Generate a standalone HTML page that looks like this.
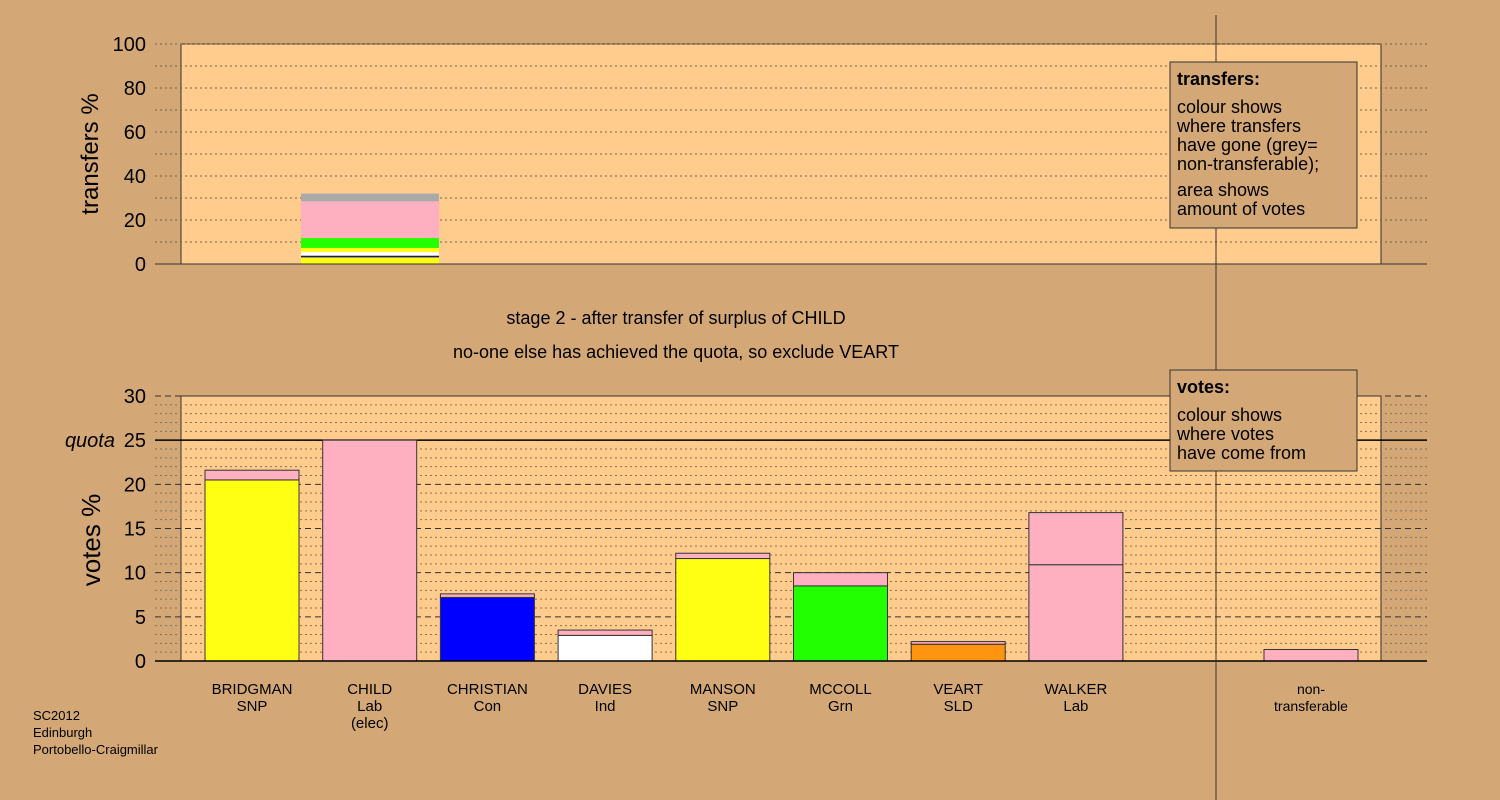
<!DOCTYPE html>
<html><head><meta charset="utf-8"><style>
html,body{margin:0;padding:0;background:#d3a876;}
svg{display:block;font-family:"Liberation Sans",Arial,sans-serif;}
</style></head><body>
<svg id="c" width="1500" height="800" viewBox="0 0 1500 800" xmlns="http://www.w3.org/2000/svg">
<rect width="1500" height="800" fill="#d3a876"/>
<g id="topPanel"></g>
<g id="botPanel"></g>
</svg>
<script>
const candidates=["BRIDGMAN\nSNP","CHILD\nLab\n(elec)","CHRISTIAN\nCon","DAVIES\nInd","MANSON\nSNP","MCCOLL\nGrn","VEART\nSLD","WALKER\nLab"];
const baseVotes=[20.5,25,7.2,2.9,11.6,8.5,1.9,10.9,0];
const baseColors=["#ffff14","#ffb0c0","#0000ff","#ffffff","#ffff14","#22ff00","#ff9410","#ffb0c0","#ffb0c0"];
const addVotes=[1.1,0,0.4,0.6,0.6,1.5,0.3,5.9,1.3];
const addColor="#ffb0c0";
const transferVals=[3,0.8,1.7,1.8,4.5,0,16.7,3.5];
const transferColors=["#ffff14","#1a1a66","#ffffff","#ffff14","#22ff00","#ff9410","#ffb0c0","#a9a9a9"];
const topTicks=[0,20,40,60,80,100];
const botTicks=[0,5,10,15,20,25,30];
const quota=25;

const NS="http://www.w3.org/2000/svg";
function el(p,t,a,txt){const e=document.createElementNS(NS,t);for(const k in a)e.setAttribute(k,a[k]);if(txt!==undefined)e.textContent=txt;p.appendChild(e);return e;}
const topG=document.getElementById('topPanel'),botG=document.getElementById('botPanel');
const X0=181,X1=1381;
const yT=v=>264-v*2.2;
const yB=v=>661-v*(265/30);
const barX=i=>i<8?205+i*117.7:1264;
const BW=94;

let r=el(topG,'rect',{x:X0,y:44,width:X1-X0,height:220,fill:"#ffcc8e",stroke:"#333","stroke-width":1});


for(let v=10;v<=100;v+=10){let l=el(topG,'line',{x1:155,x2:1427,y1:yT(v),y2:yT(v),stroke:"#7a6040","stroke-dasharray":"2,3","stroke-width":1});

}
topTicks.forEach(v=>{let t=el(topG,'text',{x:146,y:yT(v)+7,"text-anchor":"end","font-size":20,fill:"#000"},String(v));

});
let yt=el(topG,'text',{x:0,y:0,transform:"translate(98,154) rotate(-90)","text-anchor":"middle","font-size":24},"transfers %");


let cum=0;
transferVals.forEach((v,i)=>{if(v<=0)return;let b=el(topG,'rect',{x:301,y:yT(cum+v),width:138,height:v*2.2,fill:transferColors[i]});

cum+=v;});
el(topG,'line',{x1:155,x2:1427,y1:264,y2:264,stroke:"#333","stroke-width":1});

let t1=el(topG,'text',{x:676,y:324,"text-anchor":"middle","font-size":18},"stage 2 - after transfer of surplus of CHILD");


let t2=el(topG,'text',{x:676,y:358,"text-anchor":"middle","font-size":18},"no-one else has achieved the quota, so exclude VEART");



r=el(botG,'rect',{x:X0,y:396,width:X1-X0,height:265,fill:"#ffcc8e",stroke:"#333","stroke-width":1});


for(let v=1;v<=30;v++){let l=el(botG,'line',{x1:155,x2:1427,y1:yB(v),y2:yB(v),stroke:v%5?"#8a7050":"#333","stroke-dasharray":v%5?"2,3":"6,4","stroke-width":1});

}
botTicks.forEach(v=>{let t=el(botG,'text',{x:146,y:yB(v)+7,"text-anchor":"end","font-size":20},String(v));

});
let q=el(botG,'text',{x:115,y:yB(quota)+7,"text-anchor":"end","font-size":20,"font-style":"italic"},"quota");


let ql=el(botG,'line',{x1:155,x2:1427,y1:yB(quota),y2:yB(quota),stroke:"#000","stroke-width":1.5});


let vt=el(botG,'text',{x:0,y:0,transform:"translate(100,540) rotate(-90)","text-anchor":"middle","font-size":26},"votes %");


baseVotes.forEach((v,i)=>{
 const x=barX(i);
 if(v>0){let b=el(botG,'rect',{x:x,y:yB(v),width:BW,height:yB(0)-yB(v),fill:baseColors[i],stroke:"#333","stroke-width":1});
 
 }
 const a=addVotes[i];
 if(a>0){let b=el(botG,'rect',{x:x,y:yB(v+a),width:BW,height:yB(v)-yB(v+a),fill:addColor,stroke:"#333","stroke-width":1});
 
 }
});
el(botG,'line',{x1:155,x2:1427,y1:661,y2:661,stroke:"#000","stroke-width":1.5});
candidates.concat(["non-\ntransferable"]).forEach((c,i)=>{
 c.split("\n").forEach((ln,j)=>{let t=el(botG,'text',{x:barX(i)+BW/2,y:694+j*17,"text-anchor":"middle","font-size":i==8?14:15},ln);
 
 });
});
let dv=el(botG,'line',{x1:1216,x2:1216,y1:15,y2:800,stroke:"#333","stroke-width":1});


let g=el(botG,'g',{});


el(g,'rect',{x:1170,y:62,width:187,height:166,fill:"#d3a876",stroke:"#333"});
el(g,'text',{x:1177,y:85,"font-size":18,"font-weight":"bold"},"transfers:");
["colour shows","where transfers","have gone (grey=","non-transferable);"].forEach((s,j)=>el(g,'text',{x:1177,y:113+j*19,"font-size":18},s));
["area shows","amount of votes"].forEach((s,j)=>el(g,'text',{x:1177,y:196+j*19,"font-size":18},s));
g=el(botG,'g',{});


el(g,'rect',{x:1170,y:370,width:187,height:101,fill:"#d3a876",stroke:"#333"});
el(g,'text',{x:1177,y:393,"font-size":18,"font-weight":"bold"},"votes:");
["colour shows","where votes","have come from"].forEach((s,j)=>el(g,'text',{x:1177,y:421+j*19,"font-size":18},s));
g=el(botG,'g',{});


["SC2012","Edinburgh","Portobello-Craigmillar"].forEach((s,j)=>el(g,'text',{x:33,y:720+j*17,"font-size":13},s));
</script>
</body></html>
